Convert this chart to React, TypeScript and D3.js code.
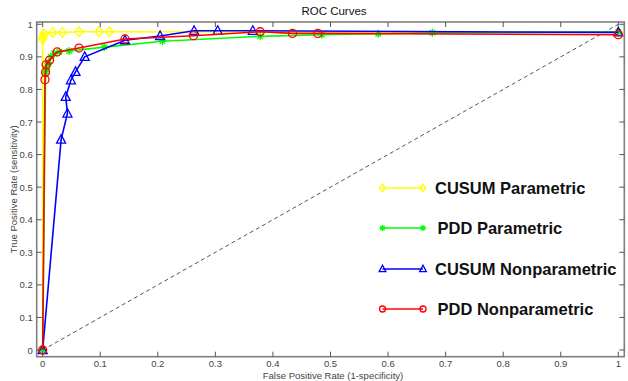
import * as d3 from "d3";

const cusumParFpr = [0, 0, 0.001, 0.002, 0.017, 0.034, 0.063, 0.098, 0.116, 1];
const cusumParTpr = [0, 0.955, 0.962, 0.97, 0.975, 0.975, 0.977, 0.977, 0.977, 0.975];

const pddParFpr = [0, 0.005, 0.006, 0.008, 0.01, 0.014, 0.02, 0.029, 0.046, 0.107, 0.208, 0.378, 0.485, 0.583, 0.677, 1];
const pddParTpr = [0, 0.85, 0.862, 0.872, 0.882, 0.9, 0.91, 0.916, 0.918, 0.93, 0.948, 0.963, 0.968, 0.971, 0.974, 0.976];

const cusumNonFpr = [0, 0.032, 0.043, 0.04, 0.049, 0.057, 0.073, 0.143, 0.204, 0.263, 0.304, 0.365, 1];
const cusumNonTpr = [0, 0.646, 0.726, 0.777, 0.828, 0.854, 0.9, 0.951, 0.964, 0.98, 0.98, 0.98, 0.975];

const pddNonFpr = [0, 0.004, 0.005, 0.006, 0.012, 0.025, 0.063, 0.143, 0.262, 0.378, 0.434, 0.478, 1];
const pddNonTpr = [0, 0.83, 0.853, 0.876, 0.89, 0.915, 0.927, 0.955, 0.965, 0.977, 0.972, 0.972, 0.968];

const seriesNames = ["CUSUM Parametric", "PDD Parametric", "CUSUM Nonparametric", "PDD Nonparametric"];
const seriesColors = ["#ffff00", "#00ff00", "#0000ff", "#ff0000"];
const seriesMarkers = ["diamond", "star", "triangle", "circle"];

const tickValues = [0, 0.1, 0.2, 0.3, 0.4, 0.5, 0.6, 0.7, 0.8, 0.9, 1];

const width = 628;
const height = 381;

function Marker({ type, x, y, color, k = 1 }: { type: string; x: number; y: number; color: string; k?: number }) {
  if (type === "diamond") {
    return (
      <path
        d={`M${x},${y - 5 * k}L${x + 4 * k},${y}L${x},${y + 5 * k}L${x - 4 * k},${y}Z`}
        fill="none"
        stroke={color}
        strokeWidth={1.3}
      />
    );
  }
  if (type === "star") {
    const r = 4 * k;
    const d = r * 0.7;
    return (
      <path
        d={`M${x - r},${y}L${x + r},${y}M${x},${y - r}L${x},${y + r}M${x - d},${y - d}L${x + d},${y + d}M${x - d},${y + d}L${x + d},${y - d}`}
        stroke={color}
        strokeWidth={1.3}
      />
    );
  }
  if (type === "triangle") {
    return (
      <path
        d={`M${x},${y - 5 * k}L${x + 4.5 * k},${y + 3.5 * k}L${x - 4.5 * k},${y + 3.5 * k}Z`}
        fill="none"
        stroke={color}
        strokeWidth={1.3}
      />
    );
  }
  return <circle cx={x} cy={y} r={4 * k} fill="none" stroke={color} strokeWidth={1.3} />;
}

export default function App() {
  const x = d3.scaleLinear().domain([-0.0104, 1.0104]).range([36.7, 624.3]);
  const y = d3.scaleLinear().domain([-0.0205, 1.007]).range([356.7, 22]);

  const series = [
    [cusumParFpr, cusumParTpr],
    [pddParFpr, pddParTpr],
    [cusumNonFpr, cusumNonTpr],
    [pddNonFpr, pddNonTpr],
  ];

  const line = d3
    .line<[number, number]>()
    .x((d) => x(d[0]))
    .y((d) => y(d[1]));

  const x0 = x.range()[0];
  const x1 = x.range()[1];
  const y0 = y.range()[0];
  const y1 = y.range()[1];
  const font = "'Liberation Sans', Arial, sans-serif";

  const legendY = [188, 228, 269, 309];

  return (
    <svg width={width} height={height} style={{ position: "absolute", left: 0, top: 0, background: "#fff" }}>
      <rect x={0} y={0} width={width} height={height} fill="#fff" />
      <text x={334} y={15} textAnchor="middle" fontFamily={font} fontSize={11.5} fill="#111">
        ROC Curves
      </text>

      {/* diagonal */}
      <line x1={x(0)} y1={y(0)} x2={x(1)} y2={y(1)} stroke="#555" strokeWidth={1} strokeDasharray="4,3" />

      {series.map((s, i) => {
        const pts = s[0].map((f, j) => [f, s[1][j]] as [number, number]);
        return (
          <g key={i}>
            <path d={line(pts) || undefined} fill="none" stroke={seriesColors[i]} strokeWidth={1.6} />
            {pts.map((p, j) => (
              <Marker key={j} type={seriesMarkers[i]} x={x(p[0])} y={y(p[1])} color={seriesColors[i]} />
            ))}
          </g>
        );
      })}

      {/* axes box */}
      <rect x={x0} y={y1} width={x1 - x0} height={y0 - y1} fill="none" stroke="#7f7f7f" strokeWidth={1.6} />
      {tickValues.map((t) => (
        <g key={"x" + t}>
          <line x1={x(t)} x2={x(t)} y1={y0} y2={y0 - 5} stroke="#555" />
          <line x1={x(t)} x2={x(t)} y1={y1} y2={y1 + 5} stroke="#555" />
          <text x={x(t)} y={y0 + 10.5} textAnchor="middle" fontFamily={font} fontSize={9.5} fill="#444">
            {d3.format("~g")(t)}
          </text>
        </g>
      ))}
      {tickValues.map((t) => (
        <g key={"y" + t}>
          <line x1={x0} x2={x0 + 5} y1={y(t)} y2={y(t)} stroke="#555" />
          <line x1={x1} x2={x1 - 5} y1={y(t)} y2={y(t)} stroke="#555" />
          <text x={x0 - 4} y={y(t) + 3.5} textAnchor="end" fontFamily={font} fontSize={9.5} fill="#444">
            {d3.format("~g")(t)}
          </text>
        </g>
      ))}
      <text x={333} y={379} textAnchor="middle" fontFamily={font} fontSize={9.5} fill="#444">
        False Positive Rate (1-specificity)
      </text>
      <text
        transform={`translate(17,${(y0 + y1) / 2}) rotate(-90)`}
        textAnchor="middle"
        fontFamily={font}
        fontSize={9.5}
        fill="#444"
      >
        True Positive Rate (sensitivity)
      </text>

      {/* legend */}
      {seriesNames.map((name, i) => (
        <g key={name}>
          <line x1={382.5} x2={423} y1={legendY[i]} y2={legendY[i]} stroke={seriesColors[i]} strokeWidth={1.6} />
          <Marker type={seriesMarkers[i]} x={382.5} y={legendY[i]} color={seriesColors[i]} k={0.75} />
          <Marker type={seriesMarkers[i]} x={423} y={legendY[i]} color={seriesColors[i]} k={0.75} />
          <text
            x={i % 2 === 0 ? 435 : 437.5}
            y={legendY[i] + 5.8}
            fontFamily={font}
            fontSize={16.5}
            fontWeight="bold"
            fill="#111"
          >
            {name}
          </text>
        </g>
      ))}
    </svg>
  );
}
